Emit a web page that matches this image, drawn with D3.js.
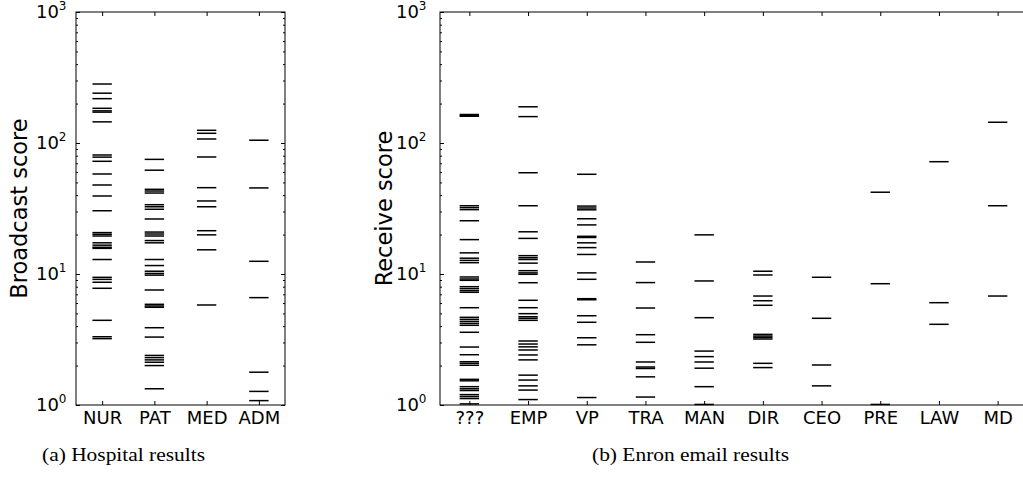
<!DOCTYPE html>
<html>
<head>
<meta charset="utf-8">
<script src="https://cdn.jsdelivr.net/npm/d3@7"></script>
<style>
  html, body { margin: 0; padding: 0; background: #fff; }
  svg { display: block; }
</style>
</head>
<body>
<script>
// ---- Data ----
const hospitalCategories = ["NUR", "PAT", "MED", "ADM"];
const nurScores = [282, 240, 218, 184, 176, 172, 145, 81, 78, 72.5, 58, 47.8, 39.4, 30.4, 20.7, 20.1, 19.5, 17.3, 16.6, 16.0, 15.7, 12.9, 9.43, 9.1, 8.65, 7.78, 4.43, 3.32, 3.21];
const patScores = [75, 62, 44.3, 43, 41.5, 33.8, 32.6, 31.2, 26.3, 20.9, 20.2, 19.5, 18, 17.3, 12.9, 11.6, 10.5, 10.1, 9.8, 7.55, 5.87, 5.7, 5.57, 3.89, 3.3, 2.39, 2.3, 2.21, 2.12, 2.0, 1.33];
const medScores = [125, 118.6, 107.3, 78.2, 45.6, 36.1, 32.6, 21.4, 19.9, 15.3, 5.8];
const admScores = [105, 45.4, 12.5, 6.6, 1.78, 1.27, 1.08];

const enronCategories = ["???", "EMP", "VP", "TRA", "MAN", "DIR", "CEO", "PRE", "LAW", "MD"];
const unknownScores = [165, 162, 160, 33.2, 32.1, 31.0, 25.5, 18.3, 14.5, 13.2, 12.7, 12.2, 9.49, 9.16, 8.95, 8.0, 7.73, 7.46, 7.25, 5.53, 4.67, 4.51, 4.35, 4.2, 4.06, 3.59, 2.77, 2.42, 2.14, 2.08, 2.01, 1.57, 1.53, 1.38, 1.33, 1.29, 1.2, 1.16, 1.12, 1.02];
const empScores = [189, 159, 59.3, 33.2, 21.0, 18.7, 13.8, 13.3, 12.9, 12.1, 10.6, 10.2, 9.95, 8.58, 6.3, 5.53, 4.98, 4.72, 4.59, 4.43, 3.08, 2.92, 2.78, 2.63, 2.41, 2.21, 1.69, 1.55, 1.4, 1.3, 1.1];
const vpScores = [57.7, 33.0, 31.9, 30.9, 26.4, 23.7, 19.4, 19.0, 17.3, 15.9, 14.1, 10.2, 9.11, 6.48, 6.36, 4.8, 4.28, 3.26, 2.88, 1.14];
const traScores = [12.35, 8.6, 5.5, 3.44, 3.01, 2.13, 1.95, 1.9, 1.64, 1.15];
const manScores = [19.9, 8.85, 4.64, 2.58, 2.34, 2.13, 1.91, 1.38, 1.01];
const dirScores = [10.5, 9.83, 6.79, 6.25, 5.77, 3.46, 3.36, 3.28, 3.19, 2.08, 1.93];
const ceoScores = [9.44, 4.59, 2.02, 1.40];
const preScores = [42.1, 8.43, 1.01];
const lawScores = [72, 6.04, 4.13];
const mdScores = [144, 33.2, 6.79];

const yMajorTicks = [1, 10, 100, 1000];
const yTickExponents = ["0", "1", "2", "3"];

const hospitalSeries = [nurScores, patScores, medScores, admScores];
const enronSeries = [unknownScores, empScores, vpScores, traScores, manScores, dirScores, ceoScores, preScores, lawScores, mdScores];

// ---- Drawing ----
const W = 1023, H = 480;
const svg = d3.select("body").append("svg").attr("width", W).attr("height", H);
svg.append("rect").attr("width", W).attr("height", H).attr("fill", "#fff");

const FONT = "'DejaVu Sans', sans-serif";
const minorTicks = [];
for (let k = 0; k < 3; k++) for (let m = 2; m <= 9; m++) minorTicks.push(m * Math.pow(10, k));

function panel(opts) {
  const { x0, x1, y0, y1, categories, series, ylabel, ylabelX, labelPad } = opts;
  const g = svg.append("g");
  const x = d3.scalePoint().domain(categories).range([x0, x1]).padding(0.5);
  const y = d3.scaleLog().domain([1, 1000]).range([y1, y0]);
  const half = 9.7;

  categories.forEach((c, i) => {
    g.append("g").selectAll("line").data(series[i]).join("line")
      .attr("x1", x(c) - half).attr("x2", x(c) + half)
      .attr("y1", d => y(d)).attr("y2", d => y(d))
      .attr("stroke", "#000").attr("stroke-width", 1.5);
  });

  const styleAxis = sel => {
    sel.select(".domain").remove();
    sel.selectAll(".tick line").attr("stroke", "#000").attr("stroke-width", 1);
  };

  g.append("g").attr("transform", `translate(${x0},0)`)
    .call(d3.axisLeft(y).tickValues(yMajorTicks).tickSize(-4).tickFormat(""))
    .call(styleAxis).selectAll("text").remove();
  g.append("g").attr("transform", `translate(${x0},0)`)
    .call(d3.axisLeft(y).tickValues(minorTicks).tickSize(-2).tickFormat(""))
    .call(styleAxis).selectAll("text").remove();
  g.append("g").attr("transform", `translate(${x1},0)`)
    .call(d3.axisRight(y).tickValues(yMajorTicks).tickSize(-4).tickFormat(""))
    .call(styleAxis).selectAll("text").remove();
  g.append("g").attr("transform", `translate(${x1},0)`)
    .call(d3.axisRight(y).tickValues(minorTicks).tickSize(-2).tickFormat(""))
    .call(styleAxis).selectAll("text").remove();
  g.append("g").attr("transform", `translate(0,${y0})`)
    .call(d3.axisTop(x).tickSize(-4).tickFormat(""))
    .call(styleAxis).selectAll("text").remove();
  const bx = g.append("g").attr("transform", `translate(0,${y1})`)
    .call(d3.axisBottom(x).tickSize(-4).tickPadding(6))
    .call(styleAxis);
  bx.selectAll("text").attr("font-family", FONT).attr("font-size", 18).attr("fill", "#000");

  yMajorTicks.forEach((v, i) => {
    const t = g.append("text")
      .attr("x", x0 - labelPad).attr("y", y(v)).attr("dy", "0.36em")
      .attr("text-anchor", "end").attr("font-family", FONT).attr("font-size", 18).attr("fill", "#000");
    t.append("tspan").text("10");
    t.append("tspan").attr("font-size", 12).attr("dy", -8).text(yTickExponents[i]);
  });

  g.append("rect").attr("x", x0).attr("y", y0).attr("width", x1 - x0).attr("height", y1 - y0)
    .attr("fill", "none").attr("stroke", "#000").attr("stroke-width", 1);

  g.append("text")
    .attr("transform", `translate(${ylabelX},${(y0 + y1) / 2}) rotate(-90)`)
    .attr("text-anchor", "middle").attr("font-family", FONT).attr("font-size", 22.5).attr("fill", "#000")
    .text(ylabel);
}

panel({ x0: 76, x1: 285, y0: 12, y1: 405, categories: hospitalCategories, series: hospitalSeries,
        ylabel: "Broadcast score", ylabelX: 26.5, labelPad: 9.5 });
panel({ x0: 440, x1: 1027, y0: 12, y1: 405, categories: enronCategories, series: enronSeries,
        ylabel: "Receive score", ylabelX: 391.5, labelPad: 13.5 });

const SERIF = "'Liberation Serif', 'DejaVu Serif', serif";
svg.append("text").attr("x", 42).attr("y", 461).attr("font-family", SERIF).attr("font-size", 19)
  .attr("textLength", 163).attr("lengthAdjust", "spacingAndGlyphs").text("(a) Hospital results");
svg.append("text").attr("x", 592).attr("y", 461).attr("font-family", SERIF).attr("font-size", 19)
  .attr("textLength", 197).attr("lengthAdjust", "spacingAndGlyphs").text("(b) Enron email results");
</script>
</body>
</html>
